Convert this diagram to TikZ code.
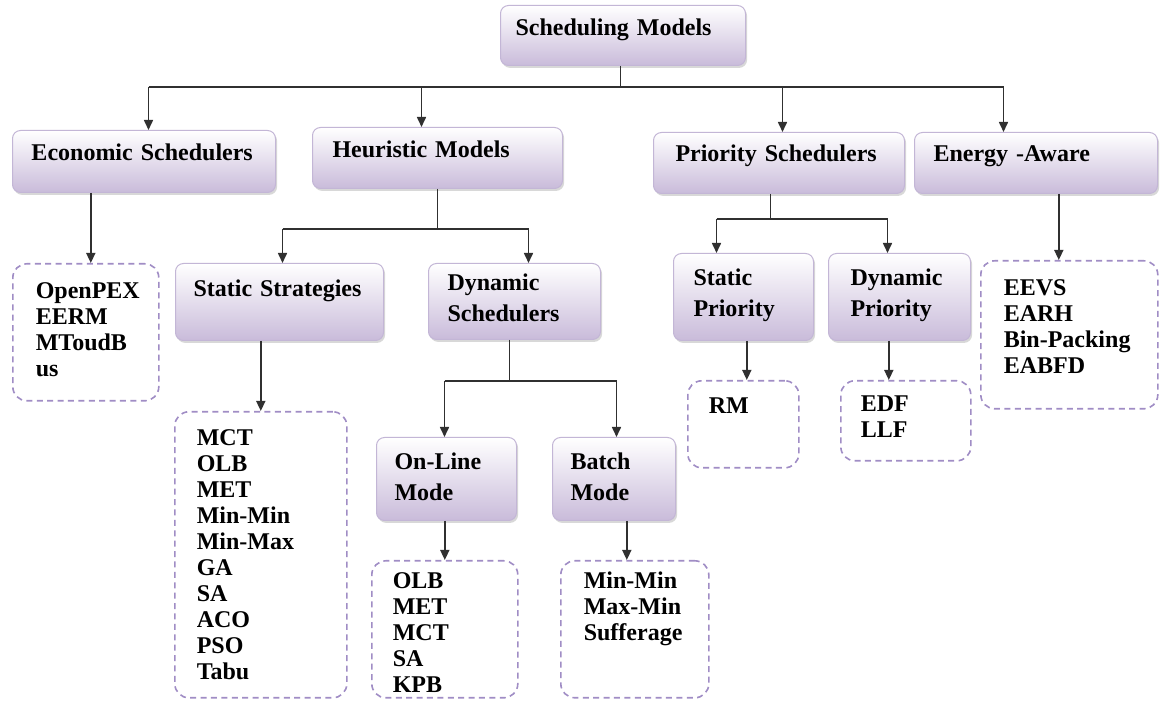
\documentclass[tikz,border=0pt]{standalone}
\usepackage{fontspec}
\setmainfont{Liberation Serif}
\usepackage{tikz}
\usetikzlibrary{shapes,arrows,arrows.meta}
\usetikzlibrary{positioning,calc,shadows}
\definecolor{boxLine}{HTML}{C3B6D6}
\definecolor{boxLav}{HTML}{C9BBDA}
\definecolor{dashLine}{HTML}{A08DC5}
\definecolor{lineGray}{HTML}{303030}

\begin{document}
\begin{tikzpicture}[x=0.5pt,y=-0.5pt,every text node part/.style={align=left}]
\tikzset{myFont/.style={font=\bfseries\fontsize{12}{15.5}\selectfont}}
\tikzset{listFont/.style={font=\bfseries\fontsize{12}{13}\selectfont}}
\tikzset{myBox/.style={anchor=north west,draw=boxLine,line width=0.5pt,rounded corners=4pt,top color=white,bottom color=boxLav,drop shadow={opacity=0.3,shadow xshift=0.8pt,shadow yshift=-1.2pt},myFont,inner ysep=3pt}}
\tikzset{myList/.style={anchor=north west,draw=dashLine,line width=0.8pt,dash pattern=on 3pt off 2.2pt,rounded corners=7pt,fill=white,listFont,inner ysep=3pt}}
\tikzset{myLine/.style={draw=lineGray,line width=0.8pt}}
\tikzset{myArrow/.style={myLine,-{Triangle[width=4.5pt,length=5pt]}}}

\fill[white] (0,0) rectangle (1163,704);
\path[use as bounding box] (0,0) rectangle (1163,704);

% boxes
\node[myBox,inner xsep=7.5pt,text width=107.5pt,text height=12pt,text depth=12pt] (sched) at (500,5) {Scheduling Models};

\node[myBox,inner xsep=9.5pt,text width=112.5pt,text height=12pt,text depth=13pt] (econ) at (12,130) {Economic Schedulers};
\node[myBox,inner xsep=10pt,text width=105pt,text height=12pt,text depth=12.5pt] (heur) at (312,127) {Heuristic Models};
\node[myBox,inner xsep=11pt,text width=103.5pt,text height=11.5pt,text depth=13pt] (prio) at (653,132) {Priority~Schedulers};
\node[myBox,inner xsep=9.5pt,text width=102.5pt,text height=11.5pt,text depth=13pt] (energy) at (914,132) {Energy -Aware};

\node[myBox,inner xsep=9pt,text width=86pt,text height=13.5pt,text depth=19pt] (statstr) at (175,263) {Static Strategies};
\node[myBox,inner xsep=9.5pt,text width=67pt,text height=10.5pt,text depth=21.5pt] (dynsch) at (428,263) {Dynamic\\Schedulers};
\node[myBox,inner xsep=10pt,text width=50pt,text height=13pt,text depth=24.5pt] (statprio) at (673,253) {Static\\Priority};
\node[myBox,inner xsep=11pt,text width=49pt,text height=13pt,text depth=24.5pt] (dynprio) at (828,253) {Dynamic\\Priority};
\node[myBox,inner xsep=9pt,text width=52pt,text height=13pt,text depth=22.5pt] (online) at (376,437) {On-Line\\Mode};
\node[myBox,inner xsep=9pt,text width=43.5pt,text height=13pt,text depth=22.5pt] (batch) at (552,437) {Batch\\Mode};

% lists
\node[myList,inner xsep=11.5pt,text width=50pt,text height=14.5pt,text depth=48pt] (econlist) at (12,263) {OpenPEX\\EERM\\MToudB\\us};
\node[myList,inner xsep=11pt,text width=64pt,text height=14pt,text depth=123pt] (statlist) at (174,411) {MCT\\OLB\\MET\\Min-Min\\Min-Max\\GA\\SA\\ACO\\PSO\\Tabu};
\node[myList,inner xsep=10.5pt,text width=52pt,text height=11pt,text depth=51.5pt] (onlist) at (371,560) {OLB\\MET\\MCT\\SA\\KPB};
\node[myList,inner xsep=11.5pt,text width=51pt,text height=11pt,text depth=51.5pt] (batchlist) at (560,560) {Min-Min\\Max-Min\\Sufferage};
\node[myList,inner xsep=10.5pt,text width=34.5pt,text height=13.5pt,text depth=24pt] (rmlist) at (687,380) {RM};
\node[myList,inner xsep=10pt,text width=45pt,text height=12.5pt,text depth=21.5pt] (edflist) at (840,380) {EDF\\LLF};
\node[myList,inner xsep=11.5pt,text width=65.5pt,text height=14.5pt,text depth=53.5pt] (energylist) at (980,260) {EEVS\\EARH\\Bin-Packing\\EABFD};

% arrow ends
\coordinate (econIn) at ([xshift=2.25pt]econ.north);
\coordinate (heurIn) at ([xshift=-8pt]heur.north);
\coordinate (prioIn) at ([xshift=1.75pt]prio.north);
\coordinate (energyIn) at ([xshift=-16.25pt]energy.north);
\coordinate (statstrIn) at ([xshift=1.5pt]statstr.north);
\coordinate (dynschIn) at ([xshift=7pt]dynsch.north);
\coordinate (onlineIn) at ([xshift=-1pt]online.north);
\coordinate (batchIn) at ([xshift=1.25pt]batch.north);
\coordinate (statprioIn) at ([xshift=-13.5pt]statprio.north);
\coordinate (dynprioIn) at ([xshift=-6pt]dynprio.north);
\coordinate (econlistIn) at ([xshift=2.5pt]econlist.north);
\coordinate (batchlistIn) at ([xshift=-4pt]batchlist.north);
\coordinate (rmlistIn) at ([xshift=1.75pt]rmlist.north);
\coordinate (edflistIn) at ([xshift=-8.5pt]edflist.north);
\coordinate (energylistIn) at ([xshift=-5.25pt]energylist.north);

% top level
\draw[myLine] ([xshift=-1.25pt]sched.south) -- ++(0,21) coordinate (topbus);
\draw[myLine] (topbus -| econIn) -- (topbus -| energyIn);
\foreach \n in {econIn,heurIn,prioIn,energyIn}
  \draw[myArrow] (topbus -| \n) -- (\n);

% heuristic
\draw[myLine] (heur.south) -- ++(0,40) coordinate (heurbus);
\draw[myLine] (heurbus -| statstrIn) -- (heurbus -| dynschIn);
\draw[myArrow] (heurbus -| statstrIn) -- (statstrIn);
\draw[myArrow] (heurbus -| dynschIn) -- (dynschIn);
\draw[myArrow] (statlist.north |- statstr.south) -- (statlist.north);

\draw[myLine] ([xshift=-2.5pt]dynsch.south) -- ++(0,41) coordinate (dynbus);
\draw[myLine] (dynbus -| onlineIn) -- (dynbus -| batchIn);
\draw[myArrow] (dynbus -| onlineIn) -- (onlineIn);
\draw[myArrow] (dynbus -| batchIn) -- (batchIn);
\draw[myArrow] (onlist.north |- online.south) -- (onlist.north);
\draw[myArrow] (batchlistIn |- batch.south) -- (batchlistIn);

% economic
\draw[myArrow] (econlistIn |- econ.south) -- (econlistIn);

% priority
\draw[myLine] ([xshift=-4.25pt]prio.south) -- ++(0,25) coordinate (priobus);
\draw[myLine] (priobus -| statprioIn) -- (priobus -| dynprioIn);
\draw[myArrow] (priobus -| statprioIn) -- (statprioIn);
\draw[myArrow] (priobus -| dynprioIn) -- (dynprioIn);
\draw[myArrow] (rmlistIn |- statprio.south) -- (rmlistIn);
\draw[myArrow] (edflistIn |- dynprio.south) -- (edflistIn);

% energy
\draw[myArrow] (energylistIn |- energy.south) -- (energylistIn);

\end{tikzpicture}
\end{document}
